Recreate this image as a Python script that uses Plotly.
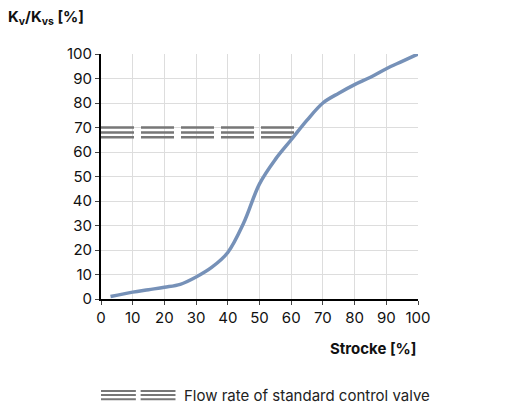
import plotly.graph_objects as go

stroke = [3, 10, 15, 20, 25, 30, 35, 40, 45, 50, 55, 60, 65, 70, 75, 80, 85, 90, 95, 100]
kv = [1, 2.8, 3.8, 4.8, 6, 9, 13, 19, 31, 47, 57, 65, 73, 80, 84, 87.5, 90.5, 94, 97, 100]
std_levels = [66, 68, 70]
std_x = [0, 62]

fig = go.Figure()
for lv in std_levels:
    fig.add_trace(go.Scatter(x=std_x, y=[lv, lv], mode="lines",
                             line=dict(color="#777777", width=2.5, dash="33px,7px"),
                             showlegend=False, hoverinfo="skip"))
fig.add_trace(go.Scatter(x=stroke, y=kv, mode="lines", line=dict(color="#7691b8", width=3.5, shape="spline"),
                         showlegend=False))

for yy in [-0.375, -0.392, -0.409]:
    for x0, x1 in [(0.0, 0.11), (0.125, 0.235)]:
        fig.add_shape(type="line", xref="paper", yref="paper", x0=x0, x1=x1,
                      y0=yy, y1=yy, line=dict(color="#777777", width=2))
fig.add_annotation(xref="paper", yref="paper", x=0.255, y=-0.392, xanchor="left", yanchor="middle",
                   text="Flow rate of standard control valve", showarrow=False,
                   font=dict(size=15, color="#222222"))
fig.add_annotation(xref="paper", yref="paper", x=-0.30, y=1.147, xanchor="left", yanchor="middle",
                   text="<b>K<sub>v</sub>/K<sub>vs</sub> [%]</b>", showarrow=False,
                   font=dict(size=15, color="#111111"))
fig.add_annotation(xref="paper", yref="paper", x=1.0, y=-0.2, xanchor="right", yanchor="middle",
                   text="<b>Strocke [%]</b>", showarrow=False, font=dict(size=15, color="#111111"))

fig.update_layout(
    width=506, height=409, margin=dict(l=93, r=96, t=46, b=118),
    plot_bgcolor="white", paper_bgcolor="white",
    font=dict(family="Inter, Roboto, sans-serif", size=15, color="#111111"),
)
fig.update_xaxes(range=[0, 100], dtick=10, showgrid=True, gridcolor="#dddddd", showline=True,
                 linecolor="black", linewidth=2, ticks="outside", ticklen=4, zeroline=False)
fig.update_yaxes(range=[0, 100], dtick=10, showgrid=True, gridcolor="#dddddd", showline=True,
                 linecolor="black", linewidth=2, ticks="outside", ticklen=4, zeroline=False)
fig.write_html("out.html")
